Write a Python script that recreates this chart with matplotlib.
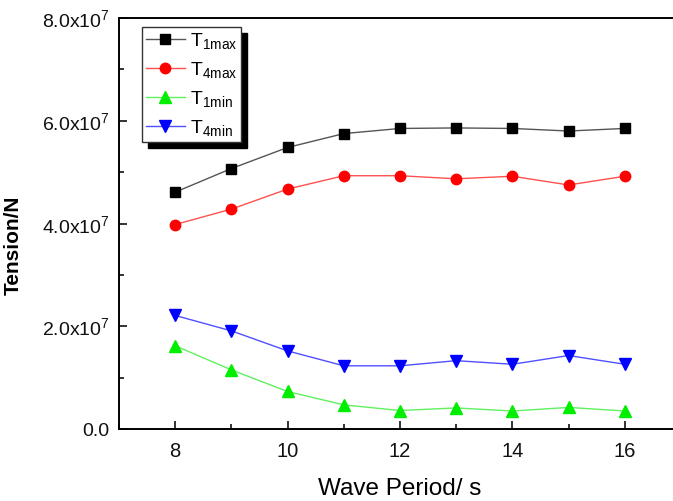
import matplotlib
matplotlib.use("Agg")
import matplotlib.pyplot as plt
from matplotlib.ticker import MultipleLocator, FuncFormatter
from matplotlib.patches import Rectangle

plt.rcParams['font.family'] = ['Liberation Sans', 'DejaVu Sans']
plt.rcParams['mathtext.fontset'] = 'custom'
plt.rcParams['mathtext.rm'] = 'Liberation Sans'

# wave period (s)
period = [8, 9, 10, 11, 12, 13, 14, 15, 16]
# tension values, in units of 1e7 N
t1_max = [4.61, 5.07, 5.48, 5.75, 5.85, 5.86, 5.85, 5.80, 5.85]
t4_max = [3.98, 4.28, 4.67, 4.93, 4.93, 4.87, 4.92, 4.75, 4.92]
t1_min = [1.62, 1.15, 0.73, 0.47, 0.36, 0.41, 0.35, 0.42, 0.35]
t4_min = [2.21, 1.91, 1.52, 1.23, 1.23, 1.33, 1.26, 1.43, 1.26]
labels = [r'T$_{\rm 1max}$', r'T$_{\rm 4max}$', r'T$_{\rm 1min}$', r'T$_{\rm 4min}$']

fig = plt.figure(figsize=(6.73, 5.02), dpi=100)
ax = fig.add_axes([119/673, 72/502, 562/673, 411/502])

series = [
    (t1_max, 's', 'black', '#555555', 6.5),
    (t4_max, 'o', 'red', '#ff5050', 7.5),
    (t1_min, '^', '#00ee00', '#60f060', 8.5),
    (t4_min, 'v', 'blue', '#5050ff', 8.5),
]
for (vals, mk, mc, lc, ms), lab in zip(series, labels):
    ax.plot(period, [v * 1e7 for v in vals], color=lc, lw=1.0,
            marker=mk, ms=ms, mfc=mc, mec=mc, label=lab)

ax.set_xlim(7, 17)
ax.set_ylim(0, 8e7)
ax.xaxis.set_major_locator(MultipleLocator(2))
ax.xaxis.set_minor_locator(MultipleLocator(1))
ax.yaxis.set_major_locator(MultipleLocator(2e7))
ax.yaxis.set_minor_locator(MultipleLocator(1e7))


def sci(v, pos):
    if v == 0:
        return '0.0'
    return r'%.1fx10$^{\rm 7}$' % (v / 1e7)


ax.yaxis.set_major_formatter(FuncFormatter(sci))
ax.tick_params(which='both', direction='in', width=1.2, colors='#111111')
ax.tick_params(axis='x', labelsize=14.5, pad=9)
ax.tick_params(axis='y', labelsize=14, pad=7)
ax.tick_params(which='major', length=6)
ax.tick_params(which='minor', length=3.5)
for s in ax.spines.values():
    s.set_linewidth(1.4)

ax.set_xlabel('Wave Period/ s', fontsize=17.5, labelpad=12)
ax.set_ylabel('Tension/N', fontsize=15, fontweight='bold')
ax.yaxis.set_label_coords(-0.172, 0.45)

leg = ax.legend(loc='upper left', bbox_to_anchor=(0.041, 0.978), fontsize=14,
                frameon=True, fancybox=False, edgecolor='#333333',
                facecolor='white', framealpha=1.0,
                handlelength=2.0, handletextpad=0.25, labelspacing=0.45,
                borderpad=0.2, borderaxespad=0.0)
leg.get_frame().set_linewidth(1.0)
leg.set_zorder(5)

# solid drop shadow behind the legend box
fig.canvas.draw()
bb = leg.get_window_extent().transformed(fig.transFigure.inverted())
dx, dy = 6 / 673, 6 / 502
ax.add_patch(Rectangle((bb.x0 + dx, bb.y0 - dy), bb.width, bb.height,
                       transform=fig.transFigure, color='black', zorder=4,
                       clip_on=False))

fig.savefig('out.png', dpi=100)
